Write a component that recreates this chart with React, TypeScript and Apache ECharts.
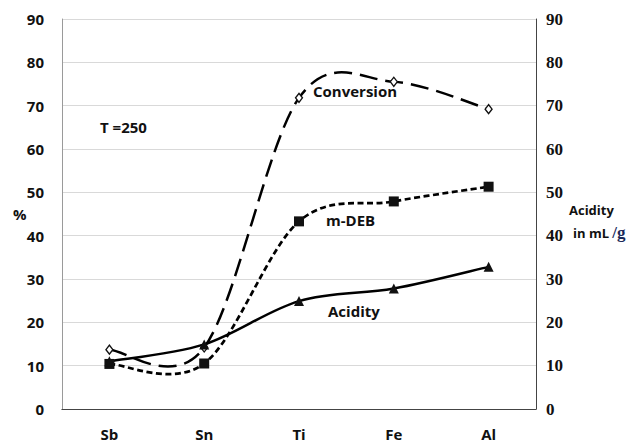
import React, { useEffect, useRef } from "react";
import * as echarts from "echarts";

const categories = ["Sb", "Sn", "Ti", "Fe", "Al"];
const conversion = [13.7, 14.2, 71.8, 75.5, 69.2];
const mDEB = [10.4, 10.5, 43.3, 47.9, 51.3];
const acidity = [11.0, 14.9, 24.9, 27.8, 32.8];
const yTicks = [0, 10, 20, 30, 40, 50, 60, 70, 80, 90];

const SANS = "Open Sans";
const SERIF = "Liberation Serif, Times New Roman, DejaVu Serif, serif";

function curveSeries(name: string, values: number[], dash: number[] | null, width: number, yAxisIndex: number) {
  return {
    type: "custom",
    name,
    yAxisIndex,
    silent: true,
    z: 2,
    data: values.map((v, i) => [i, v]),
    renderItem: (params: any, api: any) => {
      if (params.dataIndex !== 0) return null;
      const pts = values.map((v, i) => api.coord([i, v]));
      const n = pts.length;
      let d = `M${pts[0][0]},${pts[0][1]}`;
      for (let i = 0; i < n - 1; i++) {
        const p0 = pts[i - 1] || pts[i];
        const p1 = pts[i];
        const p2 = pts[i + 1];
        const p3 = pts[i + 2] || pts[i + 1];
        const c1x = p1[0] + (p2[0] - p0[0]) / 6;
        const c1y = p1[1] + (p2[1] - p0[1]) / 6;
        const c2x = p2[0] - (p3[0] - p1[0]) / 6;
        const c2y = p2[1] - (p3[1] - p1[1]) / 6;
        d += ` C${c1x},${c1y} ${c2x},${c2y} ${p2[0]},${p2[1]}`;
      }
      return {
        type: "path",
        shape: { pathData: d },
        style: {
          fill: "none",
          stroke: "#000",
          lineWidth: width,
          lineDash: dash || undefined,
          lineCap: "butt",
        },
      };
    },
  };
}

function markerSeries(name: string, values: number[], symbol: string, size: any, fill: string, yAxisIndex: number) {
  return {
    type: "scatter",
    name,
    yAxisIndex,
    z: 5,
    symbol,
    symbolSize: size,
    data: values,
    itemStyle: { color: fill, borderColor: "#111", borderWidth: fill === "#fff" ? 1.3 : 0, opacity: 1 },
  };
}

export default function App() {
  const ref = useRef<HTMLDivElement>(null);
  useEffect(() => {
    document.body.style.margin = "0";
    const chart = echarts.init(ref.current!, null, { renderer: "svg" });
    const option: any = {
      animation: false,
      backgroundColor: "#fff",
      grid: { left: 62, right: 92, top: 19, bottom: 34 },
      xAxis: [
        {
          type: "category",
          data: categories,
          boundaryGap: true,
          axisLine: { lineStyle: { color: "#9a9a9a", width: 1 } },
          axisTick: { alignWithLabel: true, length: 4, lineStyle: { color: "#222", width: 2 } },
          axisLabel: { color: "#111", fontFamily: SANS, fontWeight: "bold", fontSize: 15, margin: 17 },
          splitLine: { show: false },
        },
        {
          type: "category",
          data: categories,
          position: "top",
          axisLine: { lineStyle: { color: "#444", width: 1 } },
          axisTick: { show: false },
          axisLabel: { show: false },
        },
      ],
      yAxis: [
        {
          type: "value",
          min: 0,
          max: 90,
          interval: 10,
          axisLine: { show: true, lineStyle: { color: "#9a9a9a", width: 1 } },
          axisTick: { show: false },
          axisLabel: { color: "#111", fontFamily: SANS, fontWeight: "bold", fontSize: 15, margin: 18, formatter: (v: number) => (yTicks.includes(v) ? String(v) : "") },
          splitLine: { lineStyle: { color: "#d9d9d9", width: 1 } },
        },
        {
          type: "value",
          min: 0,
          max: 90,
          interval: 10,
          position: "right",
          axisLine: { show: true, lineStyle: { color: "#444", width: 1 } },
          axisTick: { show: false },
          axisLabel: { color: "#111", fontFamily: SERIF, fontWeight: "bold", fontSize: 17, margin: 10 },
          splitLine: { show: false },
        },
      ],
      series: [
        curveSeries("Conversion", conversion, [18, 8], 2.5, 0),
        curveSeries("m-DEB", mDEB, [6, 3.5], 2.7, 0),
        curveSeries("Acidity", acidity, null, 2.5, 1),
        markerSeries("Conversion", conversion, "diamond", [7, 9], "#fff", 0),
        markerSeries("m-DEB", mDEB, "rect", 10, "#111", 0),
        markerSeries("Acidity", acidity, "triangle", 10, "#111", 1),
      ],
      graphic: [
        { type: "text", left: 100, top: 119, style: { text: "T =250", fontFamily: SANS, fontWeight: "bold", fontSize: 15, fill: "#111" } },
        { type: "text", left: 313, top: 83, style: { text: "Conversion", fontFamily: SANS, fontWeight: "bold", fontSize: 15, fill: "#111" } },
        { type: "text", left: 326, top: 212, style: { text: "m-DEB", fontFamily: SANS, fontWeight: "bold", fontSize: 15, fill: "#111" } },
        { type: "text", left: 328, top: 303, style: { text: "Acidity", fontFamily: SANS, fontWeight: "bold", fontSize: 15, fill: "#111" } },
        { type: "text", left: 13, top: 206, style: { text: "%", fontFamily: SANS, fontWeight: "bold", fontSize: 15, fill: "#111" } },
        { type: "text", left: 569, top: 203, style: { text: "Acidity", fontFamily: SANS, fontWeight: "bold", fontSize: 13, fill: "#111" } },
        {
          type: "text",
          left: 573,
          top: 224,
          style: {
            text: "{a|in mL }{b|/g}",
            rich: {
              a: { fontFamily: SANS, fontWeight: "bold", fontSize: 13, fill: "#111" },
              b: { fontFamily: SERIF, fontWeight: "bold", fontSize: 17, fill: "#1a2a5a" },
            },
          },
        },
      ],
    };
    chart.setOption(option);
    return () => chart.dispose();
  }, []);
  return <div ref={ref} style={{ width: 628, height: 443 }} />;
}
